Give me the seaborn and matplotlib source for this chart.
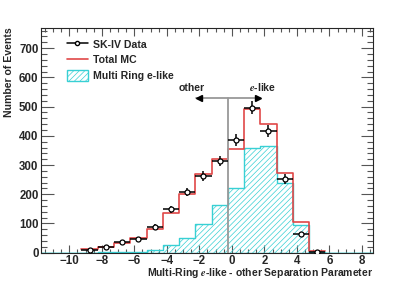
import numpy as np
import pandas as pd
import matplotlib
matplotlib.use("Agg")
import matplotlib.pyplot as plt
import seaborn as sns
from matplotlib.lines import Line2D
from matplotlib.patches import Patch

# bin centres (bins of width 1, edges at k - 0.25)
centers = [-8.75, -7.75, -6.75, -5.75, -4.75, -3.75, -2.75, -1.75, -0.75,
           0.25, 1.25, 2.25, 3.25, 4.25, 5.25]
data_counts = [10, 18, 35, 48, 88, 148, 207, 262, 314, 385, 496, 418, 252, 63, 2]
total_mc = [11, 20, 34, 50, 82, 135, 200, 268, 321, 355, 491, 441, 274, 105, 6]
multi_e = [0, 1, 1, 2, 10, 25, 50, 98, 162, 220, 360, 364, 240, 95, 4]

red = "#e04848"
cyan = "#38d0d4"

sns.set_style("ticks")
plt.rcParams["font.family"] = ["Liberation Sans", "DejaVu Sans"]
plt.rcParams["font.weight"] = "bold"
plt.rcParams["mathtext.fontset"] = "stix"
plt.rcParams["hatch.linewidth"] = 0.5

fig = plt.figure(figsize=(4.15, 2.81), dpi=100)
ax = fig.add_axes([0.0996, 0.1007, 0.8, 0.8007])

# pad with empty bins so the cyan line runs along the whole axis
pad_l = [-12.75, -11.75, -10.75, -9.75]
pad_r = [6.25, 7.25, 8.25, 9.25]
edges = [c - 0.5 for c in pad_l + centers + pad_r] + [9.75]
cyan_df = pd.DataFrame({"x": pad_l + centers + pad_r,
                        "w": [0] * 4 + multi_e + [0] * 4})
red_df = pd.DataFrame({"x": centers, "w": total_mc})

sns.histplot(data=cyan_df, x="x", weights="w", bins=edges, element="step",
             fill=True, color=cyan, alpha=1, linewidth=1.0, ax=ax)
poly = ax.collections[-1]
poly.set_facecolor("none")
poly.set_edgecolor(cyan)
poly.set_hatch("//////")

sns.histplot(data=red_df, x="x", weights="w", bins=edges[4:-4], element="step",
             fill=False, color=red, linewidth=1.2, ax=ax)

# cut line and arrows
ax.plot([-0.25, -0.25], [0, 530], color="#999999", lw=1.3, zorder=3)
ax.plot([-2.2, 1.75], [530, 530], color="#999999", lw=1.3, zorder=3)
ax.plot([-2.05], [530], marker="<", color="black", ms=5, zorder=4)
ax.plot([1.6], [530], marker=">", color="black", ms=5, zorder=4)
ax.text(-2.5, 545, "other", ha="center", va="bottom", fontsize=7.6, fontweight="bold")
ax.text(1.9, 545, "$e$-like", ha="center", va="bottom", fontsize=7.6, fontweight="bold")

# data
ax.errorbar(centers, data_counts, xerr=0.5, yerr=np.sqrt(data_counts), fmt="o",
            color="black", mfc="white", mec="black", ms=3.6, mew=0.9,
            elinewidth=1.1, capsize=0, zorder=5)

ax.set_xlim(-11.72, 8.7)
ax.set_ylim(0, 770)
ax.set_xticks(range(-10, 9, 2))
ax.set_xticks(np.arange(-11.5, 8.7, 0.5), minor=True)
ax.set_yticks(range(0, 701, 100))
ax.set_yticks(range(0, 770, 20), minor=True)
ax.tick_params(which="both", direction="in", top=True, right=True,
               labelsize=8.3, color="#555555", width=0.8, pad=2)
ax.tick_params(axis="x", which="major", length=6, pad=1.5)
ax.tick_params(axis="x", which="minor", length=3)
ax.tick_params(axis="y", which="major", length=9)
ax.tick_params(axis="y", which="minor", length=4.5)
for lab in ax.get_xticklabels() + ax.get_yticklabels():
    lab.set_fontweight("bold")
for s in ax.spines.values():
    s.set_linewidth(0.8)

ax.set_xlabel("Multi-Ring $e$-like - other Separation Parameter", fontsize=7.5,
              fontweight="bold", loc="right")
ax.xaxis.set_label_coords(1.0, -0.06)
ax.set_ylabel("Number of Events", fontsize=7.6, fontweight="bold", loc="top")
ax.yaxis.set_label_coords(-0.083, 1.0)

handles = [
    Line2D([], [], color="black", marker="o", mfc="white", ms=3, lw=1.1),
    Line2D([], [], color=red, lw=1.2),
    Patch(facecolor="white", edgecolor=cyan, hatch="//////", lw=1.0),
]
ax.legend(handles, ["SK-IV Data", "Total MC", "Multi Ring e-like"],
          loc="upper left", bbox_to_anchor=(0.077, 0.952), frameon=False,
          prop={"weight": "bold", "size": 7.6}, borderpad=0, borderaxespad=0,
          handlelength=2.0, handleheight=1.3, handletextpad=0.45,
          labelspacing=0.38)

fig.savefig("out.png", dpi=100)
